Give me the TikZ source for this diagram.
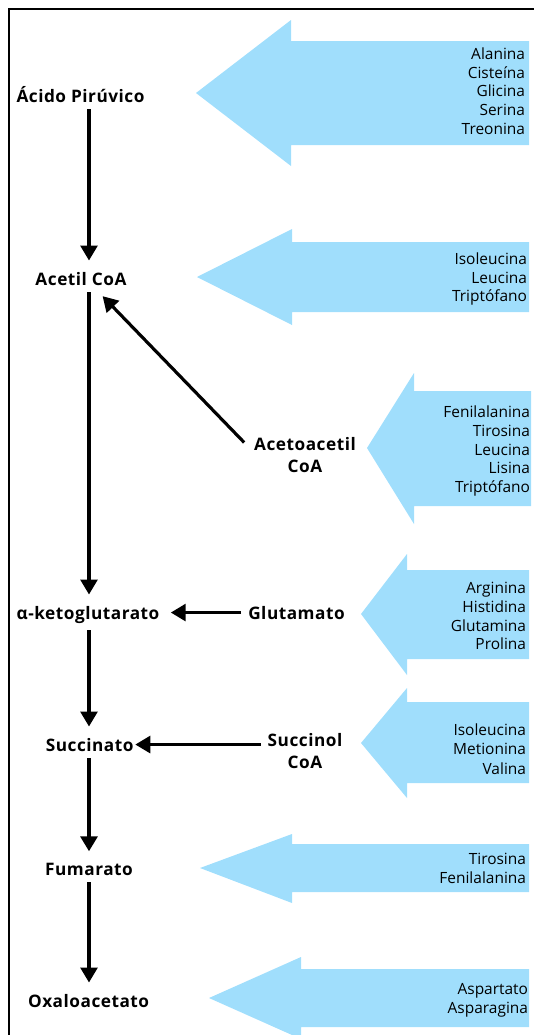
\documentclass[tikz,border=0pt]{standalone}
\usepackage{fontspec}
\usetikzlibrary{arrows.meta}
\newfontfamily\metabfont{Open Sans}[LetterSpace=3]
\newfontfamily\aminofont{Open Sans}
\definecolor{aablue}{RGB}{160,222,252}

\begin{document}
\begin{tikzpicture}[x=0.02cm, y=-0.02cm,
  metab/.style={inner sep=0pt, outer sep=0pt, align=center,
    font=\metabfont\bfseries\fontsize{9.8}{12.8}\selectfont},
  amino/.style={inner sep=0pt, outer sep=0pt, anchor=east, align=right,
    font=\aminofont\fontsize{8.8}{10.7}\selectfont},
  flow/.style={line width=1.8pt, -{Triangle[width=9.6pt,length=8.5pt]},
    shorten <=4pt, shorten >=6.5pt}]
			%%%%% START %%%%%
			\useasboundingbox (0,0) rectangle (534,1035);
			
			\draw[line width=1.2pt] (9,1035) -- (9,9) -- (534,9);
			
			\fill[aablue] (196,93) -- (291,20) -- (291,41) -- (529,41) -- (529,145) -- (291,145) -- (291,166) -- cycle;
			\fill[aablue] (197,277) -- (292,229) -- (292,242) -- (529,242) -- (529,312) -- (292,312) -- (292,325) -- cycle;
			\fill[aablue] (367,448) -- (414,373) -- (414,391) -- (531,391) -- (531,506) -- (414,506) -- (414,524) -- cycle;
			\fill[aablue] (361,614) -- (407,554) -- (407,570) -- (529,570) -- (529,659) -- (407,659) -- (407,675) -- cycle;
			\fill[aablue] (361,743) -- (407,688) -- (407,702) -- (529,702) -- (529,783) -- (407,783) -- (407,798) -- cycle;
			\fill[aablue] (200,868) -- (292,834) -- (292,844) -- (529,844) -- (529,892) -- (292,892) -- (292,903) -- cycle;
			\fill[aablue] (209,998) -- (301,957) -- (301,969) -- (529,969) -- (529,1027) -- (301,1027) -- (301,1039) -- cycle;
			
			\node[amino] (aa1) at (525,91) {Alanina\\Cisteína\\Glicina\\Serina\\Treonina};
			\node[amino] (aa2) at (527,279) {Isoleucina\\Leucina\\Triptófano};
			\node[amino] (aa3) at (530,451) {Fenilalanina\\Tirosina\\Leucina\\Lisina\\Triptófano};
			\node[amino] (aa4) at (526,616) {Arginina\\Histidina\\Glutamina\\Prolina};
			\node[amino, font=\aminofont\fontsize{8.8}{11.2}\selectfont] (aa5) at (526,749) {Isoleucina\\Metionina\\Valina};
			\node[amino] (aa6) at (526,868.5) {Tirosina\\Fenilalanina};
			\node[amino] (aa7) at (528,1000) {Aspartato\\Asparagina};
			
			\node[metab, anchor=base] (piru) at (80.5,102) {Ácido Pirúvico};
			\node[metab, anchor=base] (acetil) at (81,285) {Acetil CoA};
			\node[metab, anchor=north] (aceto) at (305,437) {Acetoacetil\\CoA};
			\node[metab, anchor=base] (akg) at (88,619) {α-ketoglutarato};
			\node[metab, anchor=base] (glu) at (296.5,619) {Glutamato};
			\node[metab, anchor=base] (succ) at (89.7,751) {Succinato};
			\node[metab, anchor=north] (succoa) at (305,733) {Succinol\\CoA};
			\node[metab, anchor=base] (fum) at (89,875) {Fumarato};
			\node[metab, anchor=base] (oxa) at (88.6,1007) {Oxaloacetato};
			
			\coordinate (stem) at (89,0);
			\draw[flow] (piru.south -| stem) -- (acetil.north -| stem);
			\draw[flow] (acetil.south -| stem) -- (akg.north -| stem);
			\draw[flow] (akg.south -| stem) -- (succ.north -| stem);
			\draw[flow] (succ.south -| stem) -- (fum.north -| stem);
			\draw[flow] (fum.south -| stem) -- (oxa.north -| stem);
			
			\draw[flow] (glu.west) -- (glu.west -| akg.east);
			\draw[flow, shorten >=1pt] (succ.east -| succoa.west) -- (succ.east);
			\draw[flow, shorten <=0pt, shorten >=0pt] ([shift={(-10,5.5)}]aceto.north west) -- ([shift={(21.6,11)}]acetil.south);
			
			%%%%% END %%%%%
\end{tikzpicture}
\end{document}
